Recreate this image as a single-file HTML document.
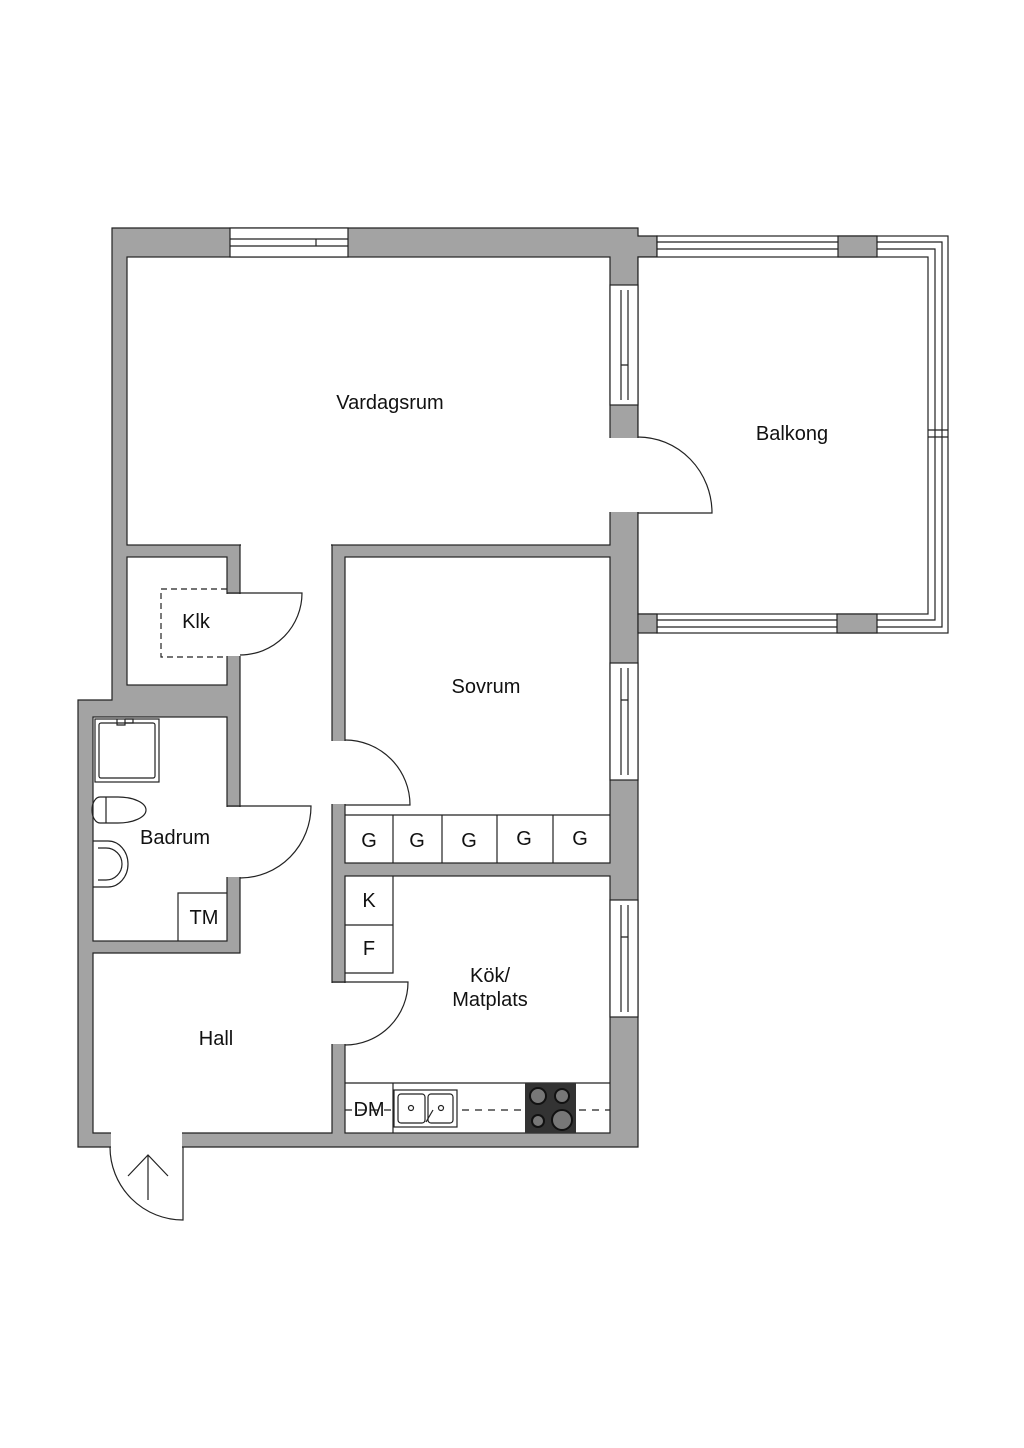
<!DOCTYPE html>
<html><head><meta charset="utf-8"><style>
html,body{margin:0;padding:0;background:#fff}
svg{display:block}
text{font-family:"Liberation Sans",sans-serif;font-size:20px;fill:#111;text-anchor:middle}
</style></head><body>
<svg width="1024" height="1448" viewBox="0 0 1024 1448" xmlns="http://www.w3.org/2000/svg">
<g stroke="#222" stroke-width="1.2">
<path d="M112 228 H638 V236 H657 V257 H638 V1147 H78 V700 H112 Z" fill="#a3a3a3"/>
<rect x="657" y="236" width="291" height="397" fill="#fff"/>
<rect x="638" y="257" width="290" height="357" fill="#fff"/>
<path d="M657 242 H838 M657 249 H838 M877 242 H942 V627 H877 M877 249 H935 V620 H877 M657 620 H838 M657 627 H838 M928 430 H948 M928 437 H948" fill="none"/>
<rect x="838" y="236" width="39" height="21" fill="#a3a3a3"/>
<rect x="837" y="614" width="40" height="19" fill="#a3a3a3"/>
<rect x="638" y="614" width="19" height="19" fill="#a3a3a3"/>
<rect x="127" y="257" width="483" height="288" fill="#fff"/>
<rect x="127" y="557" width="100" height="128" fill="#fff"/>
<rect x="93" y="717" width="134" height="224" fill="#fff"/>
<rect x="345" y="557" width="265" height="306" fill="#fff"/>
<rect x="345" y="876" width="265" height="257" fill="#fff"/>
<path d="M240 545 H332 V1133 H93 V953 H240 Z" fill="#fff"/>
</g>
<g fill="#fff" stroke="none">
<rect x="241" y="538" width="90" height="14"/>
<rect x="226" y="594" width="16" height="62"/>
<rect x="226" y="807" width="16" height="70"/>
<rect x="331" y="741" width="16" height="63"/>
<rect x="331" y="983" width="16" height="61"/>
<rect x="609" y="438" width="31" height="74"/>
<rect x="111" y="1132" width="71" height="16"/>
</g>
<g stroke="#222" stroke-width="1.2" fill="none">
<rect x="230" y="228" width="118" height="29" fill="#fff"/>
<path d="M230 239 H348 M230 246 H348 M316 239 V246"/>
<rect x="610" y="285" width="28" height="120" fill="#fff"/>
<path d="M621 290 V400 M628 290 V400 M621 365 H628"/>
<rect x="610" y="663" width="28" height="117" fill="#fff"/>
<path d="M621 668 V775 M628 668 V775 M621 700 H628"/>
<rect x="610" y="900" width="28" height="117" fill="#fff"/>
<path d="M621 905 V1012 M628 905 V1012 M621 937 H628"/>
<path d="M638 513 H712 A74 76 0 0 0 638 437"/>
<path d="M227 593 H302 A62 62 0 0 1 240 655"/>
<path d="M227 806 H311 A71 72 0 0 1 240 878"/>
<path d="M345 740 A65 65 0 0 1 410 805 H345"/>
<path d="M332 982 H408 A63 63 0 0 1 345 1045"/>
<path d="M110 1147 A73 73 0 0 0 183 1220 V1147"/>
<path d="M148 1200 V1155 M128 1176 L148 1155 L168 1176"/>
<path d="M227 589 H161 V657 H227" stroke-dasharray="6 4"/>
<path d="M345 815 H610 M393 815 V863 M442 815 V863 M497 815 V863 M553 815 V863"/>
<path d="M345 925 H393 M393 876 V973 H345"/>
<path d="M345 1083 H610 M393 1083 V1133"/>
<path d="M345 1110 H610" stroke-dasharray="7 6"/>
<rect x="394" y="1090" width="63" height="37" fill="#fff"/>
<rect x="398" y="1094" width="27" height="29" rx="3"/>
<rect x="428" y="1094" width="25" height="29" rx="3"/>
<circle cx="411" cy="1108" r="2.5"/><circle cx="441" cy="1108" r="2.5"/>
<path d="M426 1122 L433 1110"/>
<path d="M178 941 V893 H227"/>
<rect x="95" y="719" width="64" height="63"/>
<rect x="99" y="723" width="56" height="55" rx="2"/>
<path d="M117 719 v6 h8 v-6 M125 719 h8 v4 h-8"/>
<path d="M100 797 H118 A28 13 0 0 1 118 823 H100 A8 13 0 0 1 100 797 Z"/>
<path d="M106 797 V823"/>
<path d="M93 841 H108 A20 23 0 0 1 108 887 H93"/>
<path d="M98 848 H106 A16 16 0 0 1 106 880 H98"/>
</g>
<rect x="525" y="1083" width="51" height="50" fill="#333"/>
<g fill="#777" stroke="#111" stroke-width="2">
<circle cx="538" cy="1096" r="8"/><circle cx="562" cy="1096" r="7"/>
<circle cx="538" cy="1121" r="6"/><circle cx="562" cy="1120" r="10"/>
</g>
<text x="390" y="409">Vardagsrum</text>
<text x="792" y="440">Balkong</text>
<text x="196" y="628">Klk</text>
<text x="486" y="693">Sovrum</text>
<text x="175" y="844">Badrum</text>
<text x="204" y="924">TM</text>
<text x="216" y="1045">Hall</text>
<text x="490" y="982">Kök/</text>
<text x="490" y="1006">Matplats</text>
<text x="369" y="847">G</text><text x="417" y="847">G</text><text x="469" y="847">G</text><text x="524" y="845">G</text><text x="580" y="845">G</text>
<text x="369" y="907">K</text><text x="369" y="955">F</text>
<text x="369" y="1116">DM</text>
</svg>
</body></html>
